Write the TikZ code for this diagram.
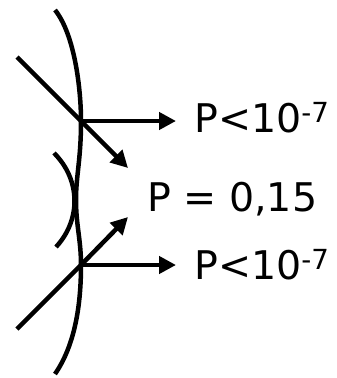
\documentclass[tikz,border=0pt]{standalone}
\usepackage{fontspec}
\setmainfont{DejaVu Sans}
\usetikzlibrary{arrows.meta}

\begin{document}
\begin{tikzpicture}[x=1pt, y=-1pt, line width=4.5pt,
    ray/.style={-{Triangle[length=17pt,width=17pt]}},
    plabel/.style={anchor=base west, inner sep=0pt, font=\fontsize{39.5}{42}\selectfont}]
  \useasboundingbox (0,0) rectangle (337,378);
  \coordinate (T)  at (55, 10);   % grand arc
  \coordinate (Bt) at (55, 374);
  \coordinate (U)  at (81, 121);  % jonction haute
  \coordinate (L)  at (81, 265);  % jonction basse
  \coordinate (M)  at (76, 200);
  \draw (T) .. controls (75,35) and (81,90) .. (U)
            .. controls (81,160) and (76,175) .. (M)
            .. controls (76,225) and (81,240) .. (L)
            .. controls (81,305) and (75,345) .. (Bt);
  \draw (54,153) .. controls (81,180) and (81,220) .. (56,247);

  \coordinate (U0) at (17, 57);
  \coordinate (U1) at (128, 168);
  \coordinate (U2) at (176, 121);
  \coordinate (L0) at (17, 329);
  \coordinate (L1) at (128, 217);
  \coordinate (L2) at (176, 265);
  \draw (U0) -- (U);
  \draw[ray] (U) -- (U1);
  \draw[ray] (U) -- (U2);
  \draw (L0) -- (L);
  \draw[ray] (L) -- (L1);
  \draw[ray] (L) -- (L2);

  \node[plabel] (pu) at (192, 132) {P<10\textsuperscript{-7}};
  \node[plabel] (pm) at (145, 211) {P = 0,15};
  \node[plabel] (pl) at (192, 279) {P<10\textsuperscript{-7}};
\end{tikzpicture}
\end{document}
